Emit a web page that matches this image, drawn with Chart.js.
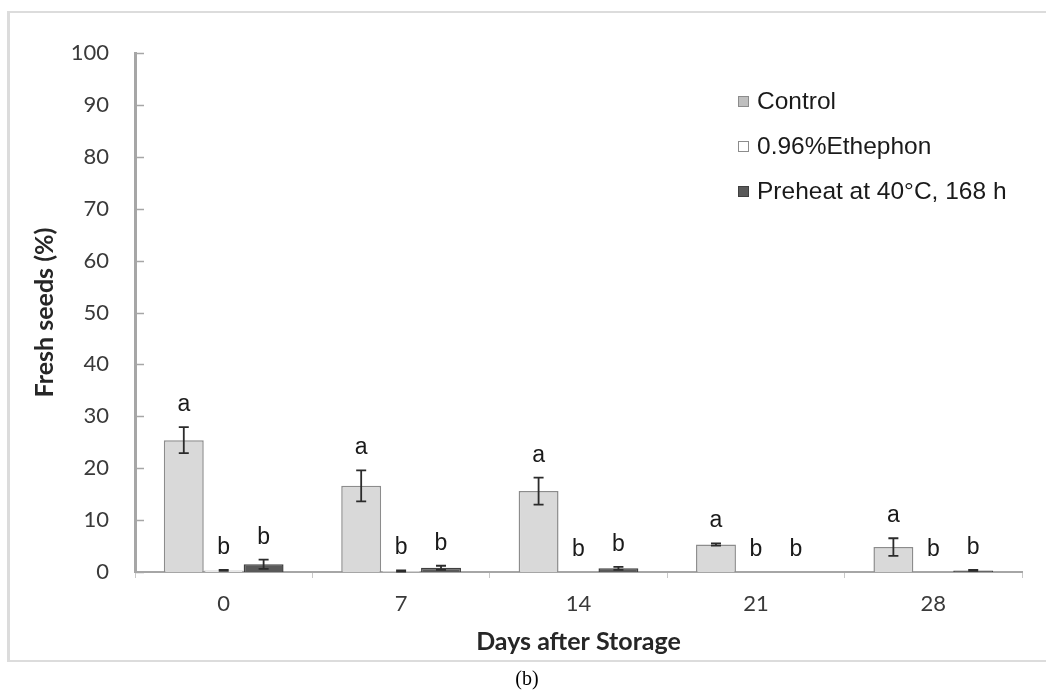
<!DOCTYPE html>
<html>
<head>
<meta charset="utf-8">
<script src="https://cdn.jsdelivr.net/npm/chart.js@4.4.0/dist/chart.umd.min.js"></script>
<style>
  html, body { margin: 0; padding: 0; background: #fff; overflow: hidden; }
  #wrap { position: relative; width: 1046px; height: 690px; overflow: hidden; }
  #frame { position: absolute; left: 7px; top: 11px; width: 1060px; height: 647px; border: 2px solid #dcdcdc; border-left-width: 3px; box-sizing: content-box; }
  #c { position: absolute; left: 0; top: 0; }
  #cap { position: absolute; left: 0; width: 1054px; top: 667px; text-align: center; font-family: "Liberation Serif", "DejaVu Serif", serif; font-size: 20px; color: #000; }
</style>
</head>
<body>
<div id="wrap">
  <div id="frame"></div>
  <canvas id="c" width="1046" height="690"></canvas>
  <div id="cap">(b)</div>
</div>
<script>
const categories = ["0", "7", "14", "21", "28"];
const seriesNames = ["Control", "0.96%Ethephon", "Preheat at 40°C, 168 h"];
const controlValues = [25.4, 16.6, 15.6, 5.3, 4.8];
const controlErrors = [2.5, 3.0, 2.6, 0.2, 1.7];
const ethephonValues = [0.3, 0.2, 0, 0, 0];
const ethephonErrors = [0.1, 0.1, 0, 0, 0];
const preheatValues = [1.5, 0.8, 0.7, 0, 0.3];
const preheatErrors = [0.9, 0.4, 0.3, 0, 0.1];
const controlLetters = ["a", "a", "a", "a", "a"];
const ethephonLetters = ["b", "b", "b", "b", "b"];
const preheatLetters = ["b", "b", "b", "b", "b"];
const yTicks = [0, 10, 20, 30, 40, 50, 60, 70, 80, 90, 100];

const errorsBySeries = [controlErrors, ethephonErrors, preheatErrors];
const lettersBySeries = [controlLetters, ethephonLetters, preheatLetters];

const fillColors = ["#d9d9d9", "#ffffff", "#595959"];
const borderColors = ["#8c8c8c", "#a6a6a6", "#404040"];
const legendFill = ["#bfbfbf", "#ffffff", "#595959"];
const legendBorder = ["#8c8c8c", "#8c8c8c", "#404040"];

const overlay = {
  id: 'overlay',
  afterDatasetsDraw(chart) {
    const ctx = chart.ctx;
    const y = chart.scales.y;
    const area = chart.chartArea;
    ctx.save();
    // inward y tick marks
    ctx.strokeStyle = '#a6a6a6';
    ctx.lineWidth = 1.5;
    y.ticks.forEach(t => {
      const py = Math.round(y.getPixelForValue(t.value)) + 0.5;
      ctx.beginPath();
      ctx.moveTo(area.left + 1, py);
      ctx.lineTo(area.left + 9, py);
      ctx.stroke();
    });
    // error bars and letters
    chart.data.datasets.forEach((ds, i) => {
      const meta = chart.getDatasetMeta(i);
      const errs = errorsBySeries[i];
      const letters = lettersBySeries[i];
      meta.data.forEach((bar, j) => {
        const v = ds.data[j];
        const e = errs[j];
        const x = bar.x;
        if (e > 0) {
          const yt = y.getPixelForValue(v + e);
          const yb = y.getPixelForValue(Math.max(0, v - e));
          ctx.strokeStyle = '#2b2b2b';
          ctx.lineWidth = 1.8;
          ctx.beginPath();
          ctx.moveTo(x, yt); ctx.lineTo(x, yb);
          ctx.moveTo(x - 5, yt); ctx.lineTo(x + 5, yt);
          ctx.moveTo(x - 5, yb); ctx.lineTo(x + 5, yb);
          ctx.stroke();
        }
        const top = y.getPixelForValue(v + e);
        ctx.fillStyle = '#1a1a1a';
        ctx.font = '23px "Liberation Sans", Arial, sans-serif';
        ctx.textAlign = 'center';
        ctx.textBaseline = 'alphabetic';
        ctx.fillText(letters[j], x, top - 16);
      });
    });
    // legend
    const lx = 738, ly = [101, 146, 191];
    chart.data.datasets.forEach((ds, i) => {
      ctx.fillStyle = legendFill[i];
      ctx.fillRect(lx, ly[i] - 5, 11, 11);
      ctx.strokeStyle = legendBorder[i];
      ctx.lineWidth = 1;
      ctx.strokeRect(lx + 0.5, ly[i] - 4.5, 10, 10);
      ctx.fillStyle = '#1a1a1a';
      ctx.font = '24.5px "Liberation Sans", Arial, sans-serif';
      ctx.textAlign = 'left';
      ctx.textBaseline = 'middle';
      ctx.fillText(ds.label, lx + 19, ly[i] + 1);
    });
    ctx.restore();
  }
};

new Chart(document.getElementById('c'), {
  type: 'bar',
  data: {
    labels: categories,
    datasets: [
      { label: seriesNames[0], data: controlValues, backgroundColor: fillColors[0], borderColor: borderColors[0], borderWidth: 1.5 },
      { label: seriesNames[1], data: ethephonValues, backgroundColor: fillColors[1], borderColor: borderColors[1], borderWidth: 1.5 },
      { label: seriesNames[2], data: preheatValues, backgroundColor: fillColors[2], borderColor: borderColors[2], borderWidth: 1.5 }
    ]
  },
  options: {
    responsive: false,
    animation: false,
    devicePixelRatio: 1,
    barPercentage: 1.0,
    categoryPercentage: 0.675,
    layout: { padding: { left: 20, top: 53, right: 24, bottom: 29 } },
    plugins: { legend: { display: false }, tooltip: { enabled: false } },
    scales: {
      x: {
        offset: true,
        grid: { display: true, drawOnChartArea: false, offset: true, tickLength: 6, color: '#c8c8c8' },
        border: { display: true, color: '#a6a6a6', width: 2 },
        ticks: { color: '#3a3a3a', font: { family: 'Lato', size: 22 }, padding: 13 },
        title: { display: true, text: 'Days after Storage', color: '#262626', font: { family: 'Lato', size: 25, weight: 'bold' }, padding: { top: 0, bottom: 4 } },
        afterFit(scale) { scale.height = 89; }
      },
      y: {
        min: 0, max: 100,
        afterBuildTicks(scale) { scale.ticks = yTicks.map(v => ({ value: v })); },
        grid: { display: false },
        border: { display: true, color: '#a6a6a6', width: 3 },
        ticks: { color: '#3a3a3a', font: { family: 'Lato', size: 22 }, padding: 18 },
        title: { display: true, text: 'Fresh seeds (%)', color: '#262626', font: { family: 'Lato', size: 25, weight: 'bold' }, padding: { top: 10, bottom: 0 } },
        afterFit(scale) { scale.width = 115; }
      }
    }
  },
  plugins: [overlay]
});
</script>
</body>
</html>
